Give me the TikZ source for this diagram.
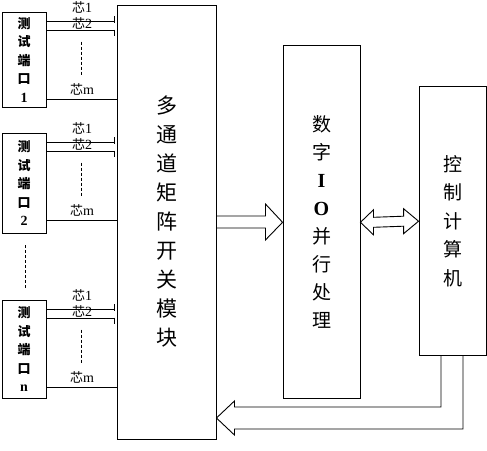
\documentclass[tikz,border=0pt]{standalone}
\usepackage{fontspec}
\setmainfont{Liberation Serif}
\newfontfamily\cjk{Noto Sans CJK SC}
\usetikzlibrary{calc}
\begin{document}
\begin{tikzpicture}[x=1pt,y=-1pt,line width=0.9pt,
  box/.style={draw,rectangle,inner sep=0pt,align=center},
  port/.style={box,minimum width=44pt,font=\cjk\bfseries\fontsize{13}{18.5}\selectfont},
  core/.style={inner sep=0pt,font=\cjk\fontsize{13}{13}\selectfont},
  dots/.style={dashed,dash pattern=on 3pt off 2pt,line width=0.8pt}]
\useasboundingbox (0,0) rectangle (487,450);
% ports
\node[port,minimum height=95pt] (p1) at (24,59.5) {测\\试\\端\\口\\{\rmfamily\fontsize{14}{18.5}\selectfont 1}};
\node[port,minimum height=100pt] (p2) at (24,183) {测\\试\\端\\口\\{\rmfamily\fontsize{14}{18.5}\selectfont 2}};
\node[port,minimum height=98pt] (pn) at (24,349) {测\\试\\端\\口\\{\rmfamily\fontsize{14}{18.5}\selectfont n}};
% main blocks
\node[box,minimum width=99pt,minimum height=434pt,font=\cjk\fontsize{21}{29}\selectfont] (mat) at (166.5,222) {多\\通\\道\\矩\\阵\\开\\关\\模\\块};
\node[box,minimum width=77pt,minimum height=353pt,font=\cjk\fontsize{19}{28}\selectfont] (io) at (321.5,222.3) {数\\字\\{\rmfamily\bfseries\fontsize{20}{28}\selectfont I}\\{\rmfamily\bfseries\fontsize{20}{28}\selectfont O}\\并\\行\\处\\理};
\node[box,minimum width=67pt,minimum height=269pt,font=\cjk\fontsize{19}{28.5}\selectfont] (pc) at (452.5,221.2) {控\\制\\计\\算\\机};
% wires
\foreach \p in {p1,p2,pn}{
  \draw ($(\p.north east)+(0,9.5)$) -- ++(68,0) ++(0,-5) -- ++(0,7);
  \draw ($(\p.north east)+(0,19)$) -- ++(68,0) ++(0,-1) -- ++(0,6);
  \draw ($(\p.north east)+(0,88)$) -- ++(71,0);
  \node[core] (\p-c1) at ($(\p.north)+(58,-4.5)$) {芯{\rmfamily\fontsize{14}{14}\selectfont 1}};
  \node[core] (\p-c2) at ($(\p.north)+(58,12)$) {芯{\rmfamily\fontsize{14}{14}\selectfont 2}};
  \node[core] (\p-cm) at ($(\p.north)+(58,78)$) {芯{\rmfamily\fontsize{14}{14}\selectfont m}};
  \draw[dots] ($(\p.north)+(57,30)$) -- ++(0,33);
}
\draw[dots] ($(p2.south)+(1,12)$) -- ($(pn.north)+(1,-10)$);
% arrow matrix -> IO
\draw (mat.east) +(0,-6) -- +(49,-6) -- +(49,-18) -- (io.west) -- ($(mat.east)+(49,18)$) -- ($(mat.east)+(49,6)$) -- ($(mat.east)+(0,6)$);
% double arrow IO <-> computer
\draw (io.east) -- +(13,-12.5) -- +(13,-5) -- ($(pc.west)+(-15,-5)$) -- ($(pc.west)+(-15,-12.5)$) -- (pc.west)
  -- +(-15,12.5) -- +(-15,5) -- ($(io.east)+(13,5)$) -- ($(io.east)+(13,12.5)$) -- cycle;
% return arrow computer -> matrix
\coordinate (tipc) at ($(mat.east)+(0,196)$);
\draw ($(pc.south)+(-11.5,0)$) |- ($(tipc)+(18,-11)$) -- ($(tipc)+(18,-17)$) -- (tipc)
  -- ($(tipc)+(18,17)$) -- ($(tipc)+(18,11)$) -| ($(pc.south)+(10.5,0)$);
\end{tikzpicture}
\end{document}
